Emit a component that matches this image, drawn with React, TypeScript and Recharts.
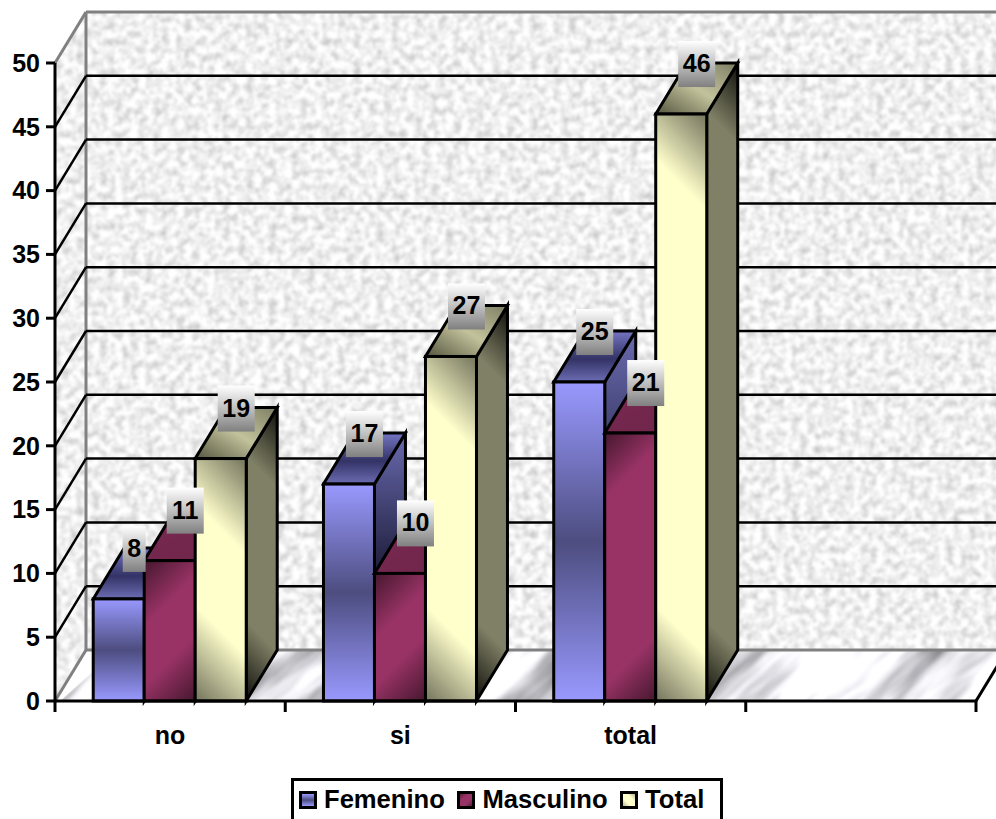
import React from 'react';
import { Bar, BarChart, CartesianGrid, LabelList, Legend, XAxis, YAxis } from 'recharts';

const categories = ['no', 'si', 'total', ''];
const femenino = [8, 17, 25, null];
const masculino = [11, 10, 21, null];
const total = [19, 27, 46, null];
const yTicks = [0, 5, 10, 15, 20, 25, 30, 35, 40, 45, 50];

const chartData = categories.map((name, i) => ({
  name,
  femenino: femenino[i],
  masculino: masculino[i],
  total: total[i],
}));

const WIDTH = 996;
const HEIGHT = 819;
const PLOT = { left: 55, right: 976, top: 63, bottom: 701 };
const DEPTH_X = 31;
const DEPTH_Y = 51;
const FONT = '"Liberation Sans", Arial, sans-serif';
const FONT_SIZE = 25;

type FaceKey = 'fem' | 'mas' | 'tot';

// 45 degree sheen across a face: dark in two opposite corners, flat in between.
// Runs in user space so the corners keep their size on tall bars.
const CornerSheen = ({ id, x, y, w, h, rising, hold, reach, dark, mid }: any) => {
  const span = w + h;
  const edge = Math.min(reach / span, 0.5);
  const held = Math.min(hold / span, edge);
  return (
    <linearGradient
      id={id}
      gradientUnits="userSpaceOnUse"
      x1={x}
      y1={rising ? y + h : y}
      x2={x + span / 2}
      y2={rising ? y + h - span / 2 : y + span / 2}
    >
      <stop offset={0} stopColor={dark} />
      <stop offset={held} stopColor={dark} />
      <stop offset={edge} stopColor={mid} />
      <stop offset={1 - edge} stopColor={mid} />
      <stop offset={1 - held} stopColor={dark} />
      <stop offset={1} stopColor={dark} />
    </linearGradient>
  );
};

const Bar3D = ({ x, y, width, height, face }: { face: FaceKey } & any) => {
  if (!height || height <= 0) return null;
  const right = x + width;
  const bottom = y + height;
  const top = `${x},${y} ${x + DEPTH_X},${y - DEPTH_Y} ${right + DEPTH_X},${y - DEPTH_Y} ${right},${y}`;
  const side = `${right},${y} ${right + DEPTH_X},${y - DEPTH_Y} ${right + DEPTH_X},${bottom - DEPTH_Y} ${right},${bottom}`;
  const uid = `${face}${Math.round(x)}`;
  return (
    <g stroke="#000" strokeWidth={3} strokeLinejoin="miter">
      <defs>
        {face === 'mas' && (
          <CornerSheen
            id={`${uid}F`}
            x={x}
            y={y}
            w={width}
            h={height}
            hold={6}
            reach={66}
            dark="#4d1a33"
            mid="#993366"
          />
        )}
        {face === 'tot' && (
          <>
            <CornerSheen
              id={`${uid}F`}
              x={x}
              y={y}
              w={width}
              h={height}
              rising
              hold={8}
              reach={96}
              dark="#7f7f66"
              mid="#ffffcc"
            />
            <CornerSheen
              id={`${uid}S`}
              x={right}
              y={y - DEPTH_Y}
              w={DEPTH_X}
              h={height + DEPTH_Y}
              rising
              hold={5}
              reach={80}
              dark="#15150f"
              mid="#808066"
            />
          </>
        )}
      </defs>
      <polygon points={side} fill={face === 'tot' ? `url(#${uid}S)` : `url(#${face}Side)`} />
      <polygon points={top} fill={`url(#${face}Top)`} />
      <rect
        x={x}
        y={y}
        width={width}
        height={height}
        fill={face === 'fem' ? 'url(#femFront)' : `url(#${uid}F)`}
      />
    </g>
  );
};

// value tag that sits on the back edge of a bar's top face
const ValueTag = ({ x, y, width, value }: any) => {
  if (value == null) return null;
  const text = String(value);
  const w = text.length > 1 ? 37 : 23;
  const cx = x + width / 2 + DEPTH_X / 2;
  const cy = y - DEPTH_Y + 1;
  return (
    <g>
      <rect x={cx - w / 2} y={cy - 23} width={w} height={46} fill="url(#tagFill)" />
      <text
        x={cx}
        y={cy - 1}
        textAnchor="middle"
        dominantBaseline="central"
        fontFamily={FONT}
        fontSize={FONT_SIZE}
        fontWeight={700}
        fill="#000"
      >
        {text}
      </text>
    </g>
  );
};

// category labels sit mid-band, tick marks on the band edges
const CategoryTick = ({ x, y, payload, index, visibleTicksCount }: any) => {
  const half = payload.offset ?? (PLOT.right - PLOT.left) / categories.length / 2;
  const isLast = index === visibleTicksCount - 1;
  return (
    <g>
      <line x1={x - half} x2={x - half} y1={PLOT.bottom} y2={PLOT.bottom + 11} stroke="#000" strokeWidth={3} />
      {isLast && (
        <line x1={x + half} x2={x + half} y1={PLOT.bottom} y2={PLOT.bottom + 11} stroke="#000" strokeWidth={3} />
      )}
      <text
        x={x}
        y={PLOT.bottom + 34}
        textAnchor="middle"
        dominantBaseline="central"
        fontFamily={FONT}
        fontSize={FONT_SIZE}
        fontWeight={700}
        fill="#000"
      >
        {payload.value}
      </text>
    </g>
  );
};

const WallLine = ({ x1, x2, y1 }: any) => {
  const edge = y1 <= PLOT.top + 1 || y1 >= PLOT.bottom - 1;
  const stroke = edge ? '#808080' : '#000';
  const sw = edge ? 3 : 2.5;
  return (
    <g fill="none" stroke={stroke} strokeWidth={sw}>
      <line x1={x1} y1={y1} x2={x1 + DEPTH_X} y2={y1 - DEPTH_Y} />
      <line x1={x1 + DEPTH_X} y1={y1 - DEPTH_Y} x2={x2 + DEPTH_X} y2={y1 - DEPTH_Y} />
    </g>
  );
};

const keyFills: Record<string, string> = {
  Femenino: 'linear-gradient(180deg,#9999ff,#4d4d80,#9999ff)',
  Masculino: 'linear-gradient(135deg,#5a1f3d,#993366,#993366,#5a1f3d)',
  Total: 'linear-gradient(45deg,#b5b595,#ffffcc,#ffffcc,#b5b595)',
};

const LegendBox = ({ payload }: any) => (
  <div
    style={{
      boxSizing: 'border-box',
      height: 41,
      border: '3px solid #000',
      borderBottom: 'none',
      background: '#fff',
      display: 'flex',
      alignItems: 'center',
      paddingLeft: 5,
      paddingBottom: 1,
      fontFamily: FONT,
      fontSize: 25.6,
      fontWeight: 700,
      color: '#000',
      whiteSpace: 'nowrap',
    }}
  >
    {(payload ?? [])
      .filter((item: any) => keyFills[item.value])
      .map((item: any) => (
        <div key={item.value} style={{ display: 'flex', alignItems: 'center', marginRight: 12.5 }}>
          <span
            style={{
              boxSizing: 'border-box',
              width: 18,
              height: 18,
              border: '3px solid #000',
              background: keyFills[item.value],
              marginRight: 7,
            }}
          />
          {item.value}
        </div>
      ))}
  </div>
);

const grad = (id: string, stops: [number, string][], dir: number[]) => (
  <linearGradient id={id} x1={dir[0]} y1={dir[1]} x2={dir[2]} y2={dir[3]}>
    {stops.map(([o, c]) => (
      <stop key={o} offset={o} stopColor={c} />
    ))}
  </linearGradient>
);

const DOWN = [0, 0, 0, 1];
const DIAG_DOWN = [0, 0, 1, 1];
const DIAG_UP = [0, 1, 1, 0];

const ChartDefs = () => (
  <defs>
    {grad('femFront', [[0, '#9999ff'], [0.5, '#4d4d80'], [1, '#9999ff']], DOWN)}
    {grad('femTop', [[0, '#7575c4'], [0.55, '#333366'], [1, '#6c6cb4']], DOWN)}
    {grad('femSide', [[0, '#6a6ab0'], [0.5, '#20203f'], [1, '#6a6ab0']], DOWN)}
    {grad('masTop', [[0, '#7a2952'], [1, '#6e2549']], DIAG_DOWN)}
    {grad('masSide', [[0, '#6e2549'], [1, '#4d1a33']], DOWN)}
    {grad('totTop', [[0, '#55553f'], [0.5, '#c2c29c'], [1, '#7d7d63']], DIAG_UP)}
    {grad('tagFill', [[0, '#ffffff'], [1, '#808080']], DOWN)}
  </defs>
);

// back wall, side wall and floor; sits underneath the chart's own svg
const Walls = () => {
  const { left, right, top, bottom } = PLOT;
  return (
    <svg width={WIDTH} height={HEIGHT} style={{ position: 'absolute', left: 0, top: 0 }}>
      <defs>
        <filter id="granite" x="0" y="0" width="1" height="1" colorInterpolationFilters="sRGB">
          <feTurbulence type="fractalNoise" baseFrequency="0.13" numOctaves={3} seed={4} />
          <feColorMatrix values="0.42 0 0 0 0.73  0.42 0 0 0 0.73  0.42 0 0 0 0.73  0 0 0 0 1" />
          <feGaussianBlur stdDeviation="0.9" />
          <feComposite in2="SourceGraphic" operator="in" />
        </filter>
        {/* veins run along the long axis of the noise */}
        <filter id="marble" x="0" y="0" width="1" height="1" colorInterpolationFilters="sRGB">
          <feTurbulence type="fractalNoise" baseFrequency="0.006 0.026" numOctaves={4} seed={11} />
          <feColorMatrix values="1.35 0 0 0 0.25  1.35 0 0 0 0.25  1.35 0 0 0 0.27  0 0 0 0 1" />
          <feGaussianBlur stdDeviation="1" />
        </filter>
        <clipPath id="floorClip">
          <polygon
            points={`${left},${bottom} ${right},${bottom} ${right + DEPTH_X},${bottom - DEPTH_Y} ${left + DEPTH_X},${bottom - DEPTH_Y}`}
          />
        </clipPath>
      </defs>
      <rect
        x={left + DEPTH_X}
        y={top - DEPTH_Y}
        width={right - left}
        height={bottom - top}
        fill="#fff"
        filter="url(#granite)"
      />
      <polygon
        points={`${left},${top} ${left + DEPTH_X},${top - DEPTH_Y} ${left + DEPTH_X},${bottom - DEPTH_Y} ${left},${bottom}`}
        fill="#fff"
        filter="url(#granite)"
      />
      <g clipPath="url(#floorClip)">
        <rect x={-100} y={400} width={1300} height={700} fill="#fff" filter="url(#marble)" transform="rotate(-42 500 675)" />
      </g>
      <line x1={left + DEPTH_X} x2={left + DEPTH_X} y1={top - DEPTH_Y} y2={bottom - DEPTH_Y} stroke="#808080" strokeWidth={3} />
      <line x1={right} y1={bottom} x2={right + DEPTH_X} y2={bottom - DEPTH_Y} stroke="#000" strokeWidth={3} />
    </svg>
  );
};

const series: { key: string; name: string; face: FaceKey }[] = [
  { key: 'femenino', name: 'Femenino', face: 'fem' },
  { key: 'masculino', name: 'Masculino', face: 'mas' },
  { key: 'total', name: 'Total', face: 'tot' },
];

export default function App() {
  return (
    <div style={{ position: 'absolute', left: 0, top: 0, width: WIDTH, height: HEIGHT, overflow: 'hidden', background: '#fff' }}>
      <Walls />
      <BarChart
        width={WIDTH}
        height={HEIGHT}
        data={chartData}
        barCategoryGap="16.6%"
        barGap={0}
        margin={{ top: PLOT.top, right: WIDTH - PLOT.right, left: 0, bottom: 0 }}
      >
        <ChartDefs />
        <CartesianGrid horizontal={(p: any) => <WallLine key={p.index} {...p} />} vertical={false} />
        <XAxis
          dataKey="name"
          interval={0}
          height={77}
          axisLine={{ stroke: '#000', strokeWidth: 3 }}
          tickLine={false}
          tick={(p: any) => <CategoryTick {...p} />}
        />
        {/* second band axis, only so the value tags paint above all three series */}
        <XAxis dataKey="name" xAxisId="tags" hide interval={0} />
        <YAxis
          width={PLOT.left}
          domain={[0, 50]}
          ticks={yTicks}
          interval={0}
          tickSize={9}
          tickMargin={6}
          axisLine={{ stroke: '#000', strokeWidth: 3 }}
          tickLine={{ stroke: '#000', strokeWidth: 3 }}
          tick={{ fontFamily: FONT, fontSize: FONT_SIZE, fontWeight: 700, fill: '#000' }}
        />
        {series.map((s) => (
          <Bar
            key={s.key}
            dataKey={s.key}
            name={s.name}
            fill="none"
            isAnimationActive={false}
            shape={(p: any) => <Bar3D {...p} face={s.face} />}
          />
        ))}
        {series.map((s) => (
          <Bar
            key={`${s.key}-tag`}
            xAxisId="tags"
            dataKey={s.key}
            fill="none"
            legendType="none"
            isAnimationActive={false}
          >
            <LabelList dataKey={s.key} content={(p: any) => <ValueTag {...p} />} />
          </Bar>
        ))}
        <Legend
          content={(p: any) => <LegendBox {...p} />}
          wrapperStyle={{ left: 291, width: 432, top: 778, bottom: 'auto' }}
        />
      </BarChart>
    </div>
  );
}
